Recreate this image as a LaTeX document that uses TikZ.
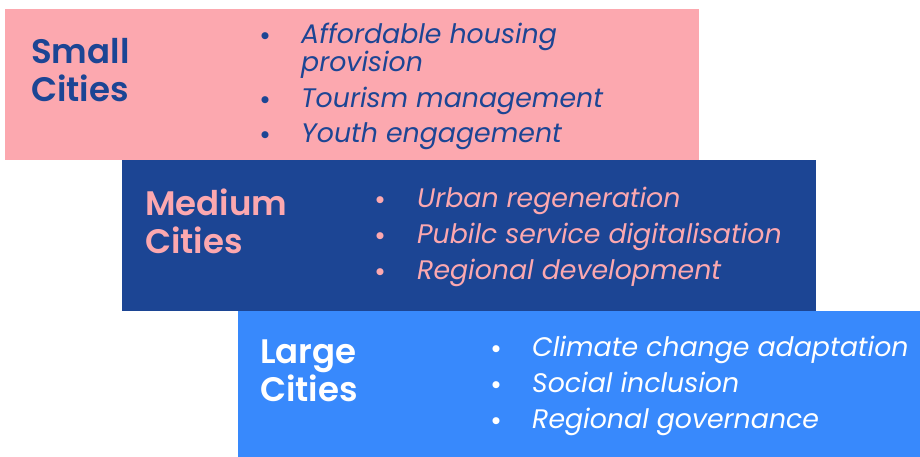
\documentclass[tikz,border=0pt]{standalone}
\usepackage{fontspec}
\setmainfont{Poppins}[BoldFont={Poppins SemiBold}]
\definecolor{pinkbox}{HTML}{FCA8AF}
\definecolor{darkbox}{HTML}{1C4594}
\definecolor{lightbox}{HTML}{3889FC}
\begin{document}
\begin{tikzpicture}[x=1pt,y=-1pt,
    box/.style={anchor=north west,inner sep=0pt,draw=none},
    title/.style={anchor=base west,inner sep=0pt,align=left,
      font=\fontsize{34}{38}\selectfont\bfseries},
    item/.style={anchor=base west,inner sep=0pt,align=left,
      font=\fontsize{26.8}{28}\selectfont\itshape},
    dot/.style={anchor=base,inner sep=0pt,
      font=\fontsize{25}{28}\selectfont\bfseries}
  ]
  \useasboundingbox (0,0) rectangle (920,457);
  % the three boxes, one step down and right each
  \node[box,fill=pinkbox,minimum width=694,minimum height=151] (smallbox) at (5,9) {};
  \node[box,fill=darkbox,minimum width=694,minimum height=151] (mediumbox) at (122,160) {};
  \node[box,fill=lightbox,minimum width=682,minimum height=146] (largebox) at (238,311) {};

  % small cities
  \node[title,text=darkbox] (smalltitle) at (31,102) {Small\\Cities};
  \node[dot,text=darkbox] (sdot1) at (265,45) {•};
  \node[item,text=darkbox] (sitem1) at (301,72) {Affordable housing\\provision};
  \node[dot,text=darkbox] (sdot2) at (265,109) {•};
  \node[item,text=darkbox] (sitem2) at (301,108) {Tourism management};
  \node[dot,text=darkbox] (sdot3) at (265,144) {•};
  \node[item,text=darkbox] (sitem3) at (301,143) {Youth engagement};

  % medium cities
  \node[title,text=pinkbox] (mediumtitle) at (145,253) {Medium\\Cities};
  \node[dot,text=pinkbox] (mdot1) at (380,208) {•};
  \node[item,text=pinkbox] (mitem1) at (417,207) {Urban regeneration};
  \node[dot,text=pinkbox] (mdot2) at (380,244) {•};
  \node[item,text=pinkbox] (mitem2) at (417,243) {Pubilc service digitalisation};
  \node[dot,text=pinkbox] (mdot3) at (380,280) {•};
  \node[item,text=pinkbox] (mitem3) at (417,279) {Regional development};

  % large cities
  \node[title,text=white] (largetitle) at (260,401) {Large\\Cities};
  \node[dot,text=white] (ldot1) at (496,357) {•};
  \node[item,text=white] (litem1) at (532,356) {Climate change adaptation};
  \node[dot,text=white] (ldot2) at (496,393) {•};
  \node[item,text=white] (litem2) at (532,392) {Social inclusion};
  \node[dot,text=white] (ldot3) at (496,429) {•};
  \node[item,text=white] (litem3) at (532,428) {Regional governance};
\end{tikzpicture}
\end{document}
